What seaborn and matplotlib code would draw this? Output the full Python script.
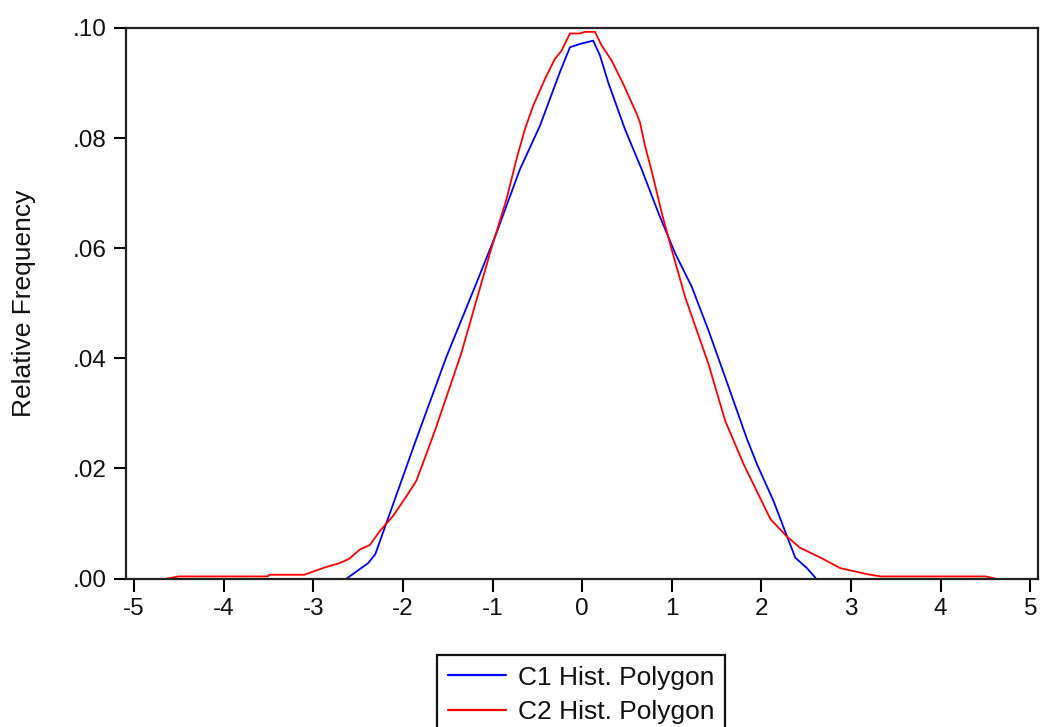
import matplotlib
matplotlib.use("Agg")
import matplotlib.pyplot as plt
import seaborn as sns
import pandas as pd
from matplotlib.ticker import FuncFormatter
from matplotlib.lines import Line2D

# C1 histogram polygon
c1_x = [-2.63, -2.39, -2.31, -1.85, -1.515, -1.18, -0.956, -0.696, -0.473, -0.249,
        -0.137, -0.026, 0.123, 0.198, 0.29, 0.477, 0.664, 0.85, 1.036, 1.222,
        1.408, 1.594, 1.837, 1.949, 2.134, 2.284, 2.377, 2.507, 2.60]
c1_y = [0.0, 0.0028, 0.0044, 0.0254, 0.0403, 0.0537, 0.0628, 0.0743, 0.0822, 0.092,
        0.0965, 0.0971, 0.0977, 0.095, 0.0901, 0.0816, 0.0743, 0.0664, 0.0591, 0.053,
        0.0451, 0.0366, 0.0254, 0.0208, 0.0141, 0.0077, 0.0038, 0.0019, 0.0002]

# C2 histogram polygon
c2_x = [-4.64, -4.50, -3.51, -3.49, -3.10, -3.0, -2.86, -2.71, -2.60, -2.48,
        -2.37, -2.26, -2.11, -1.96, -1.85, -1.74, -1.63, -1.35, -1.03, -0.845,
        -0.733, -0.64, -0.547, -0.417, -0.305, -0.23, -0.137, -0.026, 0.03, 0.142,
        0.217, 0.328, 0.458, 0.608, 0.645, 0.70, 0.775, 0.887, 0.999, 1.147,
        1.408, 1.594, 1.80, 2.10, 2.28, 2.43, 2.66, 2.88, 3.18, 3.33,
        4.50, 4.61]
c2_y = [0.0, 0.0004, 0.0004, 0.0007, 0.0007, 0.0013, 0.0021, 0.0028, 0.0036, 0.0053,
        0.0061, 0.0086, 0.0114, 0.015, 0.0178, 0.0226, 0.0275, 0.0409, 0.0591, 0.0689,
        0.0762, 0.0816, 0.0859, 0.0907, 0.0944, 0.0959, 0.0990, 0.0990, 0.0993, 0.0993,
        0.0968, 0.0941, 0.0898, 0.0844, 0.0828, 0.0786, 0.074, 0.0664, 0.0597, 0.0512,
        0.039, 0.0287, 0.0208, 0.0108, 0.0077, 0.0056, 0.0038, 0.0019, 0.0008, 0.0004,
        0.0004, 0.0]

series_names = ["C1 Hist. Polygon", "C2 Hist. Polygon"]
series_colors = ["#0000FF", "#FF0000"]
x_ticks = [-5, -4, -3, -2, -1, 0, 1, 2, 3, 4, 5]
y_ticks = [0.00, 0.02, 0.04, 0.06, 0.08, 0.10]

df = pd.concat([
    pd.DataFrame({"x": c1_x, "y": c1_y, "series": series_names[0]}),
    pd.DataFrame({"x": c2_x, "y": c2_y, "series": series_names[1]}),
], ignore_index=True)

sns.set_theme(style="white")
plt.rcParams["font.family"] = ["Liberation Sans", "DejaVu Sans"]
plt.rcParams["axes.unicode_minus"] = False

fig = plt.figure(figsize=(10.40, 7.27), dpi=100)
ax = fig.add_axes([0.1212, 0.2041, 0.8773, 0.7574])

sns.lineplot(data=df, x="x", y="y", hue="series", palette=dict(zip(series_names, series_colors)),
             estimator=None, sort=False, linewidth=1.3, ax=ax, legend=False)

ax.set_xlim(-5.09, 5.09)
ax.set_ylim(0, 0.1)
ax.set_xticks(x_ticks)
ax.set_yticks(y_ticks)
ax.yaxis.set_major_formatter(FuncFormatter(lambda v, p: f"{v:.2f}".lstrip("0")))
ax.xaxis.set_major_formatter(FuncFormatter(lambda v, p: f"{int(round(v))}"))
ax.tick_params(axis="both", which="major", direction="out", length=9, width=1.5,
               color="black", labelsize=17.5, labelcolor="#111111", pad=5,
               bottom=True, left=True, top=False, right=False)
for s in ax.spines.values():
    s.set_visible(True)
    s.set_color("#222222")
    s.set_linewidth(1.6)
ax.set_xlabel("")
ax.set_ylabel("Relative Frequency", fontsize=19, color="#111111", labelpad=26)
ax.grid(False)

handles = [Line2D([0], [0], color=c, linewidth=1.6) for c in series_colors]
leg = ax.legend(handles, series_names, loc="upper center",
                bbox_to_anchor=(0.5587, 1 - 655 / 727), bbox_transform=fig.transFigure,
                fontsize=19, frameon=True, fancybox=False, framealpha=1,
                edgecolor="#111111", handlelength=2.2, handletextpad=0.45,
                borderpad=0.4, labelspacing=0.4, borderaxespad=0)
leg.get_frame().set_linewidth(1.6)
for t in leg.get_texts():
    t.set_color("#111111")

fig.savefig("out.png", dpi=100)
